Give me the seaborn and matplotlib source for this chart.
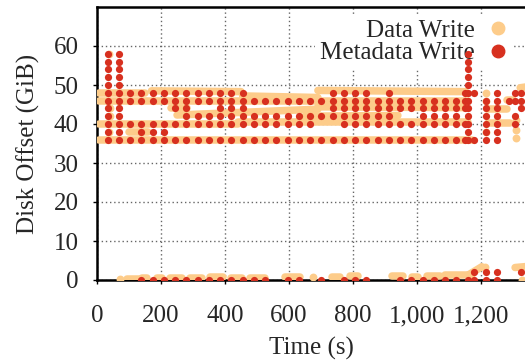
import matplotlib

matplotlib.use("Agg")

import matplotlib.pyplot as plt
import pandas as pd
import seaborn as sns
from matplotlib.lines import Line2D
from matplotlib.ticker import FuncFormatter

DATA_COLOR = "#fdcc8a"
META_COLOR = "#d7301f"

# metadata writes: disk offset (GiB) and the times (s) a dot appears at that offset
meta_offsets = [58, 56, 54, 52, 50, 48, 46, 44, 42, 40, 38, 36, 2, 0]
meta_times = [
    [33, 68, 1160],
    [33, 68, 1160],
    [33, 68, 1160],
    [33, 68, 1160],
    [33, 68, 1160],
    [33, 68, 103, 138, 174, 209, 244, 279, 314, 349, 385, 420, 455, 736, 771, 806,
     841, 912, 1150, 1160, 1179, 1249, 1307, 1325],
    [33, 68, 103, 138, 174, 209, 244, 279, 314, 349, 385, 420, 455, 490, 525, 560,
     596, 631, 666, 701, 736, 771, 806, 841, 877, 912, 947, 982, 1017, 1052, 1087,
     1122, 1150, 1160, 1214, 1249, 1286, 1307, 1325],
    [33, 68, 244, 279, 385, 420, 455, 736, 771, 806, 841, 877, 912, 947, 982, 1017,
     1052, 1087, 1122, 1150, 1160, 1214, 1249, 1325],
    [33, 68, 279, 314, 349, 385, 420, 455, 490, 525, 560, 596, 631, 666, 701, 736,
     771, 806, 841, 877, 912, 1017, 1052, 1087, 1122, 1160, 1214, 1249, 1307],
    [33, 68, 103, 138, 174, 209, 244, 279, 314, 349, 385, 420, 455, 490, 525, 560,
     596, 631, 666, 771, 806, 841, 877, 912, 947, 982, 1017, 1052, 1087, 1122, 1150,
     1160, 1214, 1249, 1307],
    [33, 68, 138, 174, 209, 1160, 1214, 1249],
    [33, 68, 103, 138, 174, 209, 244, 279, 314, 349, 385, 420, 455, 490, 525, 560,
     596, 631, 666, 701, 736, 771, 806, 841, 877, 912, 947, 982, 1017, 1052, 1087,
     1122, 1150, 1160, 1179, 1214, 1249],
    [1179, 1214, 1249, 1325],
    [138, 174, 209, 244, 279, 314, 349, 385, 420, 455, 490, 525, 596, 631, 701, 771,
     806, 841, 947, 982, 1017, 1052, 1087, 1122, 1160, 1179, 1214, 1249],
]

# data writes: sequential runs (start/end time, start/end offset)
run_t0 = [5, 170, 455, 690, 5, 230, 250, 690, 650, 5, 440, 100, 5, 1218, 1220,
          1280, 1322, 93, 140, 186, 228, 290, 353, 420, 478, 587, 733, 791, 921,
          983, 1030, 1088, 1160, 1306]
run_t1 = [150, 450, 690, 1150, 1160, 280, 690, 1150, 940, 440, 1160, 160, 1170,
          1280, 1290, 1300, 1340, 134, 155, 202, 265, 327, 394, 452, 525, 634, 760,
          816, 957, 1004, 1072, 1171, 1202, 1347]
run_y0 = [48, 48.5, 47.2, 48.6, 46, 44, 42.3, 44.4, 42, 40, 40.4, 38, 36, 43.8,
          40.3, 46.2, 49.3, 0.3, 0.4, 0.6, 0.6, 0.6, 0.7, 0.6, 0.6, 0.7, 0.8, 1.1,
          1.1, 0.8, 1.1, 1.3, 1.3, 3.2]
run_y1 = [48, 48.3, 46.8, 48.3, 46, 44, 43.8, 44.2, 42.2, 40, 40.4, 38, 36, 43.8,
          40.3, 46.2, 49.5, 0.3, 0.4, 0.6, 0.6, 0.6, 0.7, 0.6, 0.6, 0.7, 0.8, 1.1,
          1.1, 0.8, 1.1, 1.3, 3.4, 3.5]

# data writes: isolated requests
single_t = [38, 40, 40, 38, 72, 676, 1212, 1327, 1216, 1216, 1216, 1310, 1310, 1310, 1150]
single_y = [58, 44, 42, 38, 0.3, 0.8, 3.4, 0, 48, 46, 38, 41, 38.5, 36.5, 48.3]

x_ticks = [0, 200, 400, 600, 800, 1000, 1200]
y_ticks = [0, 10, 20, 30, 40, 50, 60]


def main():
    sns.set_theme(style="white")
    plt.rcParams["font.family"] = ["Liberation Serif", "DejaVu Serif"]

    meta = pd.DataFrame(
        [(t, y) for y, ts in zip(meta_offsets, meta_times) for t in ts],
        columns=["t", "y"],
    )
    runs = pd.DataFrame({
        "t": run_t0 + run_t1,
        "y": run_y0 + run_y1,
        "run": list(range(len(run_t0))) * 2,
    })
    singles = pd.DataFrame({"t": single_t, "y": single_y})

    fig = plt.figure(figsize=(5.25, 3.62), dpi=100)
    ax = fig.add_axes([97 / 525, 82 / 362, 428 / 525, 273 / 362])

    sns.lineplot(data=runs, x="t", y="y", units="run", estimator=None, sort=False,
                 color=DATA_COLOR, linewidth=5.4, solid_capstyle="round",
                 legend=False, ax=ax, zorder=3)
    sns.scatterplot(data=singles, x="t", y="y", color=DATA_COLOR, s=32,
                    linewidth=0, ax=ax, zorder=3)
    sns.scatterplot(data=meta, x="t", y="y", color=META_COLOR, s=27,
                    linewidth=0, ax=ax, zorder=6)

    ax.set_xlim(0, 1337)
    ax.set_ylim(0, 70)
    ax.set_xticks(x_ticks)
    ax.set_yticks(y_ticks)
    ax.xaxis.set_major_formatter(FuncFormatter(lambda v, _: f"{v:,.0f}"))
    ax.grid(True, linestyle=(0, (1, 2)), color="0.4", linewidth=1)
    ax.set_axisbelow(True)
    for side in ["left", "bottom", "top"]:
        ax.spines[side].set_linewidth(1.8)
        ax.spines[side].set_color("black")
    ax.spines["right"].set_visible(False)
    ax.tick_params(direction="out", length=3, width=1, color="black",
                   labelsize=18, left=True, bottom=True)
    ax.tick_params(axis="y", pad=10)
    ax.tick_params(axis="x", pad=15)

    ax.set_xlabel("Time (s)", fontsize=18, labelpad=7)
    ax.set_ylabel("Disk Offset (GiB)", fontsize=18, labelpad=10)

    handles = [
        Line2D([], [], marker="o", ls="", color=DATA_COLOR, markersize=9),
        Line2D([], [], marker="o", ls="", color=META_COLOR, markersize=9),
    ]
    leg = ax.legend(handles, ["Data Write", "Metadata Write"], loc="upper right",
                    bbox_to_anchor=(0.977, 0.982), markerfirst=False, fontsize=18,
                    frameon=True, handlelength=0.8, handletextpad=0.5,
                    labelspacing=0.0, borderpad=0.2, borderaxespad=0.1)
    leg.get_frame().set_facecolor("white")
    leg.get_frame().set_edgecolor("none")
    leg.get_frame().set_alpha(1)
    leg.set_zorder(5)

    fig.savefig("out.png", dpi=100)
    plt.close(fig)


if __name__ == "__main__":
    main()
